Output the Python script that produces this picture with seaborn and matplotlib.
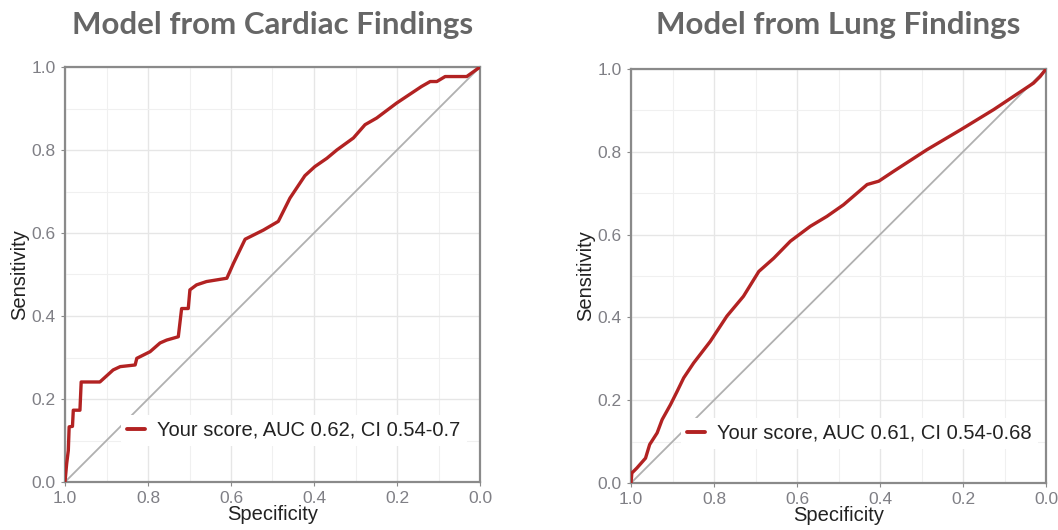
import matplotlib
matplotlib.use("Agg")
import matplotlib.pyplot as plt
from matplotlib.ticker import MultipleLocator
import seaborn as sns
import pandas as pd

# Cardiac model ROC curve (specificity, sensitivity)
cardiac_spec = [1.0, 0.996, 0.992, 0.990, 0.982, 0.980, 0.964, 0.961, 0.916, 0.884, 0.867,
                0.831, 0.827, 0.795, 0.771, 0.755, 0.727, 0.719, 0.703, 0.699, 0.683, 0.659,
                0.610, 0.594, 0.566, 0.546, 0.522, 0.486, 0.458, 0.422, 0.398, 0.369, 0.345,
                0.305, 0.277, 0.249, 0.201, 0.165, 0.141, 0.120, 0.104, 0.084, 0.032, 0.0]
cardiac_sens = [0.0, 0.044, 0.076, 0.133, 0.134, 0.173, 0.173, 0.241, 0.241, 0.270, 0.278,
                0.282, 0.298, 0.314, 0.335, 0.342, 0.350, 0.418, 0.418, 0.463, 0.475, 0.483,
                0.491, 0.527, 0.585, 0.595, 0.607, 0.628, 0.684, 0.738, 0.760, 0.780, 0.800,
                0.829, 0.861, 0.877, 0.913, 0.937, 0.953, 0.965, 0.965, 0.977, 0.977, 1.0]

# Lung model ROC curve
lung_spec = [1.0, 0.998, 0.986, 0.965, 0.955, 0.937, 0.925, 0.905, 0.889, 0.873, 0.849,
             0.809, 0.769, 0.729, 0.692, 0.656, 0.616, 0.568, 0.528, 0.488, 0.431, 0.403,
             0.367, 0.287, 0.206, 0.126, 0.030, 0.014, 0.0]
lung_sens = [0.0, 0.024, 0.036, 0.060, 0.093, 0.121, 0.153, 0.189, 0.221, 0.254, 0.290,
             0.342, 0.403, 0.451, 0.511, 0.543, 0.584, 0.620, 0.644, 0.672, 0.721, 0.729,
             0.753, 0.805, 0.853, 0.902, 0.966, 0.982, 1.0]

titles = ["Model from Cardiac Findings", "Model from Lung Findings"]
legend_labels = ["Your score, AUC 0.62, CI 0.54-0.7", "Your score, AUC 0.61, CI 0.54-0.68"]
tick_vals = [0.0, 0.2, 0.4, 0.6, 0.8, 1.0]
tick_labels = ["0.0", "0.2", "0.4", "0.6", "0.8", "1.0"]

sns.set_style("white")
plt.rcParams['font.family'] = ['Liberation Sans', 'DejaVu Sans']

fig = plt.figure(figsize=(10.58, 5.30), dpi=100)
W, H = 1058, 530
axes_px = [(65, 67, 480, 482), (631, 69, 1046, 483)]
legend_anchor = [(0.135, 0.125), (0.12, 0.12)]
data = [(cardiac_spec, cardiac_sens), (lung_spec, lung_sens)]

for i, ((l, t, r, b), (sp, se)) in enumerate(zip(axes_px, data)):
    ax = fig.add_axes([l / W, 1 - b / H, (r - l) / W, (b - t) / H])
    df = pd.DataFrame({"Specificity": sp, "Sensitivity": se, "label": legend_labels[i]})
    ax.plot([1, 0], [0, 1], color="#b0b0b0", lw=1.3, zorder=2)
    sns.lineplot(data=df, x="Specificity", y="Sensitivity", hue="label",
                 palette=["#b22222"], sort=False, estimator=None, lw=2.4, ax=ax, zorder=3)
    ax.set_xlim(1.0, 0.0)
    ax.set_ylim(0.0, 1.0)
    ax.set_xticks(tick_vals)
    ax.set_xticklabels(tick_labels)
    ax.set_yticks(tick_vals)
    ax.set_yticklabels(tick_labels)
    ax.xaxis.set_minor_locator(MultipleLocator(0.1))
    ax.yaxis.set_minor_locator(MultipleLocator(0.1))
    ax.grid(which="major", color="#e6e6e6", lw=1.0, zorder=0)
    ax.grid(which="minor", color="#f0f0f0", lw=0.8, zorder=0)
    ax.set_axisbelow(True)
    for s in ax.spines.values():
        s.set_color("#8a8a8a")
        s.set_linewidth(1.6)
    ax.tick_params(axis="both", which="major", length=3, width=0.8, color="#8a8a8a",
                   labelsize=12.5, labelcolor="#7f7f85", pad=3.5, direction="out",
                   bottom=True, left=True)
    ax.tick_params(axis="both", which="minor", length=0)
    ax.set_xlabel("Specificity", fontsize=14.5, color="#222222", labelpad=-1)
    ax.set_ylabel("Sensitivity", fontsize=14.5, color="#222222", labelpad=2)
    leg = ax.legend(loc="center left", bbox_to_anchor=legend_anchor[i], frameon=True,
                    facecolor="white", edgecolor="none", framealpha=1.0,
                    fontsize=14.5, handlelength=0.9, handletextpad=0.6,
                    borderpad=0.3, borderaxespad=0)
    for txt in leg.get_texts():
        txt.set_color("#222222")
    for ln in leg.get_lines():
        ln.set_linewidth(2.8)
    cx = (l + r) / 2 / W
    fig.text(cx, 1 - 25 / H, titles[i], ha="center", va="center", fontsize=22.5,
             fontweight="bold", color="#666666", family=["Lato", "DejaVu Sans"])

fig.savefig("out.png", dpi=100)
